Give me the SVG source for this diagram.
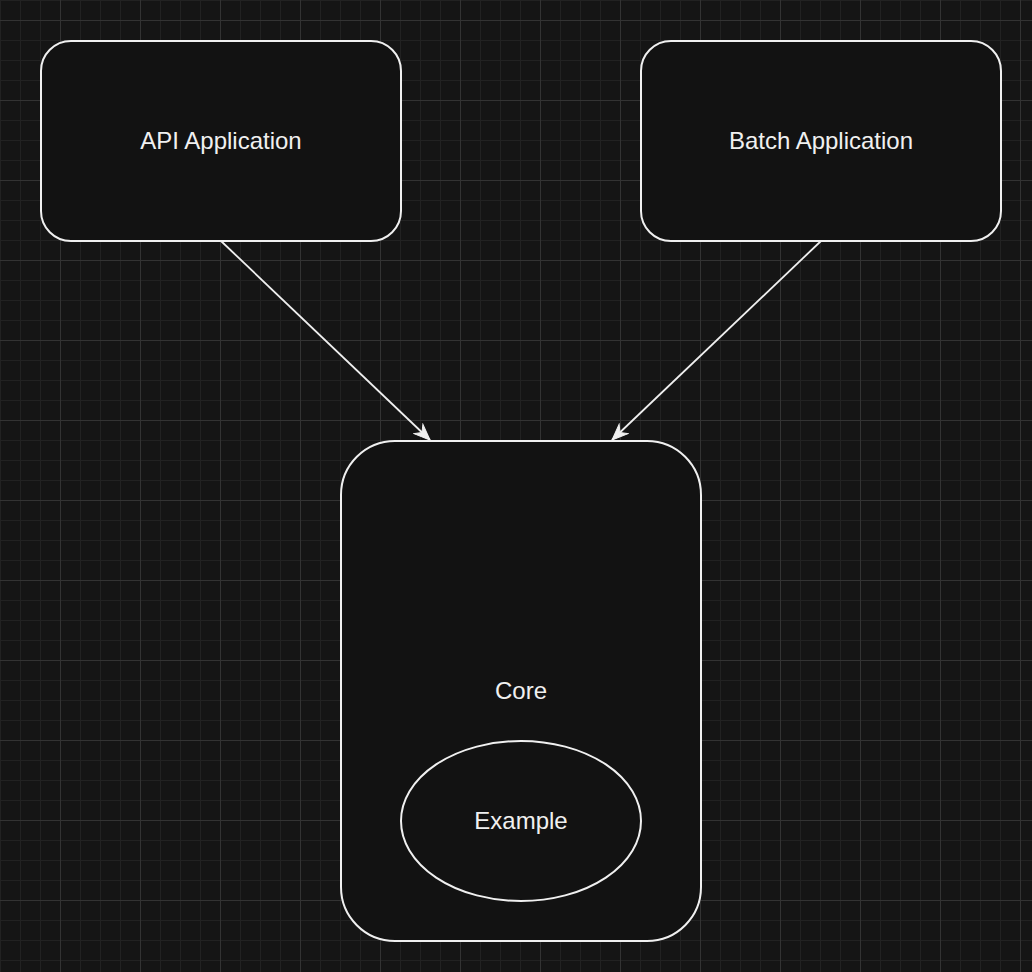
<svg xmlns="http://www.w3.org/2000/svg" width="1032" height="972" viewBox="0 0 1032 972">
<style>
.node{fill:#121212;stroke:#f0f0f0;stroke-width:2}
.lbl{font-family:"Liberation Sans",Arial,Helvetica,sans-serif;font-size:24px;fill:#f0f0f0;text-anchor:middle;dominant-baseline:central}
.edge{fill:none;stroke:#f0f0f0;stroke-width:1.8}
</style>
<defs>
<pattern id="grid" patternUnits="userSpaceOnUse" x="60" y="20" width="80" height="80">
<rect width="80" height="80" fill="#151515"/>
<path d="M20.5 0V80M40.5 0V80M60.5 0V80M0 20.5H80M0 40.5H80M0 60.5H80" stroke="#222222" stroke-width="1"/>
<path d="M0.5 0V80M0 0.5H80" stroke="#333333" stroke-width="1"/>
</pattern>
<marker id="arr" markerUnits="userSpaceOnUse" viewBox="-17 -8 18 16" refX="0" refY="0" markerWidth="18" markerHeight="16" orient="auto">
<path d="M0 0L-16 -6.5L-11 0L-16 6.5Z" fill="#f0f0f0" stroke="#f0f0f0" stroke-width="1"/>
</marker>
</defs>
<rect width="1032" height="972" fill="url(#grid)"/>
<g id="connectors">
<path class="edge" d="M221 241L430 440" marker-end="url(#arr)"/>
<path class="edge" d="M821 241L612 440" marker-end="url(#arr)"/>
</g>
<g id="api">
<rect class="node" x="41" y="41" width="360" height="200" rx="30"/>
<text class="lbl" x="221" y="140">API Application</text>
</g>
<g id="batch">
<rect class="node" x="641" y="41" width="360" height="200" rx="30"/>
<text class="lbl" x="821" y="140">Batch Application</text>
</g>
<g id="core">
<rect class="node" x="341" y="441" width="360" height="500" rx="54"/>
<text class="lbl" x="521" y="690">Core</text>
</g>
<g id="example">
<ellipse class="node" cx="521" cy="821" rx="120" ry="80"/>
<text class="lbl" x="521" y="820">Example</text>
</g>
</svg>
